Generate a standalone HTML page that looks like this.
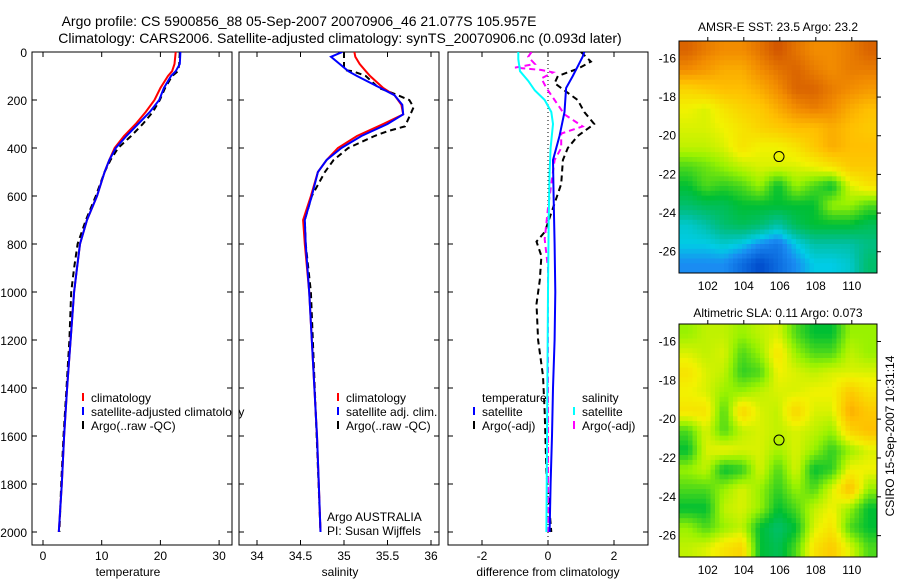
<!DOCTYPE html>
<html><head><meta charset="utf-8"><style>
html,body{margin:0;padding:0;background:#fff}
svg{display:block;font-family:"Liberation Sans",sans-serif}
</style></head><body>
<svg id="fig" width="900" height="580" viewBox="0 0 900 580" xmlns="http://www.w3.org/2000/svg">
<text x="299" y="26" font-size="14" text-anchor="middle">Argo profile: CS 5900856_88 05-Sep-2007 20070906_46 21.077S 105.957E</text>
<text x="340" y="43" font-size="14" text-anchor="middle">Climatology: CARS2006. Satellite-adjusted climatology: synTS_20070906.nc (0.093d later)</text>
<text x="778" y="31" font-size="12" text-anchor="middle">AMSR-E SST: 23.5 Argo: 23.2</text>
<text x="778" y="317" font-size="12" text-anchor="middle">Altimetric SLA: 0.11 Argo: 0.073</text>
<text transform="translate(894,436) rotate(-90)" font-size="12" text-anchor="middle">CSIRO 15-Sep-2007 10:31:14</text>
<g id="g"></g>
</svg>
<script>
// ---------- data ----------
const tClimDepth=[0,50,80,100,150,200,250,300,350,400,450,500,600,700,800,900,1000,1200,1400,1600,1800,2000];
const tClim=[22.6,22.4,22.0,21.3,20.0,19.0,17.5,15.8,13.8,12.2,11.3,10.5,9.2,7.5,6.3,5.8,5.3,4.7,4.1,3.6,3.2,2.7];
const tSat=[23.4,23.3,22.6,21.8,20.6,19.8,18.2,16.2,14.2,12.4,11.3,10.5,9.2,7.5,6.3,5.8,5.3,4.7,4.1,3.6,3.2,2.7];
const tArgo=[23.3,23.2,23.0,22.0,20.8,19.9,18.7,17.0,15.0,12.8,11.5,10.5,9.0,7.3,5.9,5.3,4.8,4.5,4.0,3.5,3.1,2.8];
const sDepth=[0,20,50,80,100,150,180,220,260,300,350,400,450,500,600,700,800,1000,1200,1400,1600,1800,2000];
const sClim=[35.12,35.13,35.18,35.25,35.3,35.45,35.58,35.66,35.68,35.45,35.15,34.93,34.8,34.7,34.62,34.53,34.55,34.6,34.63,34.66,34.69,34.71,34.73];
const sSat=[34.98,34.85,34.95,35.05,35.15,35.42,35.58,35.67,35.68,35.5,35.2,34.97,34.8,34.7,34.63,34.55,34.56,34.6,34.63,34.66,34.69,34.71,34.73];
const sArgoDepth=[0,50,75,80,100,150,170,200,230,270,310,330,350,400,450,500,600,700,800,1000,2000];
const sArgo=[35.0,35.0,35.0,35.1,35.25,35.4,35.55,35.75,35.8,35.75,35.7,35.5,35.35,35.05,34.88,34.78,34.63,34.55,34.56,34.62,34.73];
const dTSatDepth=[0,20,60,100,150,250,350,450,600,800,1000,1200,1400,1600,1800,2000];
const dTSat=[1.1,1.05,0.9,0.75,0.55,0.5,0.35,0.15,0.17,0.2,0.22,0.2,0.15,0.12,0.08,0.05];
const dTArgoDepth=[0,40,70,100,130,160,200,250,300,350,400,450,550,650,750,790,850,950,1050,1200,1350,1500,1750,2000];
const dTArgo=[1.0,1.3,0.9,0.3,0.2,0.5,0.9,1.1,1.4,0.9,0.6,0.45,0.4,0.15,-0.1,-0.35,-0.2,-0.25,-0.35,-0.3,-0.15,-0.1,-0.05,0.1];
const dSSatDepth=[0,30,80,120,160,200,250,300,400,500,700,1000,2000];
const dSSat=[-0.9,-0.9,-0.85,-0.6,-0.4,-0.1,0.1,0.15,0.08,0.05,0.02,0,-0.05];
const dSArgoDepth=[0,20,50,65,75,85,110,150,200,260,310,340,400,450,550,650,780,900,2000];
const dSArgo=[-0.5,-0.6,-0.4,-1.0,-0.2,0.15,-0.2,-0.05,0.2,0.5,1.05,0.4,0.4,0.2,0.1,0,-0.1,0,0];
const depthTicks=[0,200,400,600,800,1000,1200,1400,1600,1800,2000];
const tTicks=[0,10,20,30];
const sTicks=[34,34.5,35,35.5,36];
const dTicks=[-2,0,2];
const lonTicks=[102,104,106,108,110];
const latTicks=[-16,-18,-20,-22,-24,-26];
const sstGrid=[
[.85,.82,.8,.8,.83,.87,.83,.8,.8,.82,.85],
[.8,.78,.75,.75,.8,.83,.85,.82,.8,.82,.82],
[.68,.7,.72,.72,.75,.8,.85,.85,.82,.8,.78],
[.62,.6,.65,.68,.7,.75,.8,.82,.8,.75,.72],
[.6,.6,.62,.65,.68,.7,.72,.72,.75,.72,.7],
[.58,.58,.6,.65,.62,.62,.65,.7,.75,.72,.72],
[.5,.52,.55,.58,.6,.6,.6,.62,.65,.7,.7],
[.45,.5,.48,.5,.55,.45,.55,.5,.45,.6,.65],
[.4,.42,.42,.45,.45,.45,.45,.45,.55,.55,.5],
[.32,.35,.4,.42,.4,.35,.42,.45,.45,.45,.42],
[.3,.3,.32,.3,.25,.22,.3,.35,.35,.35,.38],
[.25,.25,.25,.2,.15,.2,.25,.3,.3,.32,.4]];
const slaGrid=[
[.55,.58,.58,.55,.58,.6,.5,.45,.45,.55,.55],
[.6,.58,.6,.5,.55,.65,.55,.5,.5,.58,.55],
[.65,.6,.58,.48,.5,.62,.6,.58,.6,.6,.6],
[.62,.6,.55,.55,.58,.6,.6,.62,.62,.7,.65],
[.65,.65,.5,.68,.6,.58,.68,.6,.6,.75,.7],
[.5,.6,.5,.58,.6,.58,.6,.58,.55,.68,.72],
[.45,.6,.62,.6,.6,.56,.6,.55,.48,.55,.6],
[.55,.58,.45,.48,.6,.5,.6,.45,.48,.62,.62],
[.5,.5,.55,.6,.55,.48,.55,.5,.6,.72,.55],
[.45,.45,.58,.6,.55,.45,.5,.58,.62,.55,.45],
[.55,.5,.55,.58,.45,.4,.45,.6,.65,.5,.45],
[.58,.6,.65,.68,.45,.42,.5,.65,.7,.6,.5]];
const argoLon=105.957, argoLat=-21.077;

// ---------- helpers ----------
const NS="http://www.w3.org/2000/svg";
const G=document.getElementById('g');
function mk(tag,attrs){const e=document.createElementNS(NS,tag);for(const k in attrs)e.setAttribute(k,attrs[k]);G.appendChild(e);return e;}
const top0=52, bot=545;
const yD=d=>top0+d*0.24;
function frame(x0,x1,name){
  const r=mk('rect',{x:x0,y:top0,width:x1-x0,height:bot-top0,fill:'none',stroke:'#000','stroke-width':1});
  
  
  depthTicks.forEach(d=>{
    const t1=mk('line',{x1:x0,x2:x0+5,y1:yD(d),y2:yD(d),stroke:'#000'});
    
    
    const t2=mk('line',{x1:x1-5,x2:x1,y1:yD(d),y2:yD(d),stroke:'#000'});
    
    
  });
}
function xticks(ticks,fx,x0,name){
  ticks.forEach(v=>{
    const x=fx(v);
    const l1=mk('line',{x1:x,x2:x,y1:bot,y2:bot-5,stroke:'#000'});
    
    
    const l2=mk('line',{x1:x,x2:x,y1:top0,y2:top0+5,stroke:'#000'});
    
    
    const t=mk('text',{x:x,y:560,'font-size':12,'text-anchor':'middle'});
    t.textContent=String(v);
    
    
  });
}
function line(depths,vals,fx,color,dash,name,clipId){
  const pts=depths.map((d,i)=>fx(vals[i]).toFixed(1)+','+yD(d).toFixed(1)).join(' ');
  const a={points:pts,fill:'none',stroke:color,'stroke-width':2};
  if(dash)a['stroke-dasharray']=dash;
  if(clipId)a['clip-path']='url(#'+clipId+')';
  const p=mk('polyline',a);
  
  
}
function label(x,y,txt,name,anchor,size){
  const t=mk('text',{x:x,y:y,'font-size':size||12,'text-anchor':anchor||'start'});
  t.textContent=txt;
  
  
  return t;
}
function legend(x,y,color,txt,name,dash){
  const l=mk('line',{x1:x,x2:x,y1:y-9,y2:y-1,stroke:color,'stroke-width':2});
  
  
  label(x+8,y,txt,name);
}
const defs=document.createElementNS(NS,'defs');G.appendChild(defs);
function clip(id,x0,x1){const c=document.createElementNS(NS,'clipPath');c.setAttribute('id',id);const r=document.createElementNS(NS,'rect');r.setAttribute('x',x0);r.setAttribute('y',top0);r.setAttribute('width',x1-x0);r.setAttribute('height',bot-top0);c.appendChild(r);defs.appendChild(c);}
clip('c1',32,232);clip('c2',239,439);clip('c3',448,648);

// ---------- panel 1 temperature ----------
const fT=v=>43+v*5.87;
frame(32,232,'temperature-panel-frame');
depthTicks.forEach(d=>label(27,yD(d)+5,String(d),'depth-tick-label','end'));
xticks(tTicks,fT,32,'temperature');
line(tClimDepth,tArgo,fT,'#000','6,4','temp-argo-line','c1');
line(tClimDepth,tClim,fT,'#f00',null,'temp-climatology-line','c1');
line(tClimDepth,tSat,fT,'#00f',null,'temp-satellite-line','c1');
label(128,576,'temperature','x-axis-title-temperature','middle');
legend(83,402,'#f00','climatology','legend-climatology');
legend(83,416,'#00f','satellite-adjusted climatology','legend-satellite-adjusted');
legend(83,430,'#000','Argo(..raw -QC)','legend-argo-raw');
const cover=mk('rect',{x:232.5,y:405,width:6,height:14,fill:'#fff'});



// ---------- panel 2 salinity ----------
const fS=v=>257+(v-34)*87;
frame(239,439,'salinity-panel-frame');
xticks(sTicks,fS,239,'salinity');
line(sArgoDepth,sArgo,fS,'#000','6,4','sal-argo-line','c2');
line(sDepth,sClim,fS,'#f00',null,'sal-climatology-line','c2');
line(sDepth,sSat,fS,'#00f',null,'sal-satellite-line','c2');
label(340,576,'salinity','x-axis-title-salinity','middle');
legend(338,402,'#f00','climatology','legend-sal-climatology');
legend(338,416,'#00f','satellite adj. clim.','legend-sal-satellite');
legend(338,430,'#000','Argo(..raw -QC)','legend-sal-argo');
label(327,521,'Argo AUSTRALIA','argo-australia-label');
label(327,535,'PI: Susan Wijffels','pi-label');

// ---------- panel 3 differences ----------
const fD=v=>548+v*33;
frame(448,648,'difference-panel-frame');
xticks(dTicks,fD,448,'difference');
const zl=mk('line',{x1:fD(0),x2:fD(0),y1:top0,y2:bot,stroke:'#000','stroke-dasharray':'1,3'});


line(dTArgoDepth,dTArgo,fD,'#000','6,4','diff-temp-argo-line','c3');
line(dSArgoDepth,dSArgo,fD,'#f0f','6,4','diff-sal-argo-line','c3');
line(dTSatDepth,dTSat,fD,'#00f',null,'diff-temp-satellite-line','c3');
line(dSSatDepth,dSSat,fD,'#0ff',null,'diff-sal-satellite-line','c3');
label(548,576,'difference from climatology','x-axis-title-difference','middle');
label(482,402,'temperature','legend-temperature-header');
legend(474,416,'#00f','satellite','legend-temp-satellite');
legend(474,430,'#000','Argo(-adj)','legend-temp-argo');
label(582,402,'salinity','legend-salinity-header');
legend(574,416,'#0ff','satellite','legend-sal-sat');
legend(574,430,'#f0f','Argo(-adj)','legend-sal-argo-adj');

// ---------- maps ----------
const stops=[[0.10,[0,0.1,0.6]],[0.15,[0,0.3,0.8]],[0.25,[0.1,0.55,0.95]],[0.3,[0,0.8,0.9]],[0.36,[0,0.75,0.6]],[0.45,[0,0.75,0.2]],[0.55,[0.6,0.95,0]],[0.62,[0.95,0.95,0]],[0.72,[1,0.75,0]],[0.8,[0.95,0.55,0]],[0.88,[0.8,0.3,0]]];
function cmap(v){
  if(v<=stops[0][0])return stops[0][1];
  for(let i=1;i<stops.length;i++){if(v<=stops[i][0]){const a=stops[i-1],b=stops[i],t=(v-a[0])/(b[0]-a[0]);return a[1].map((c,k)=>c+(b[1][k]-c)*t);}}
  return stops[stops.length-1][1];
}
function drawMap(grid,x0,y0,x1,y1,lon0,lon1,lat0,lat1,name){
  const R=grid.length,C=grid[0].length,up=4;
  const nr=R*up,nc=C*up,cw=(x1-x0)/nc,ch=(y1-y0)/nr;
  for(let i=0;i<nr;i++){for(let j=0;j<nc;j++){
    const fy=Math.min(Math.max((i+0.5)/up-0.5,0),R-1),fx=Math.min(Math.max((j+0.5)/up-0.5,0),C-1);
    const i0=Math.floor(fy),j0=Math.floor(fx),i1=Math.min(i0+1,R-1),j1=Math.min(j0+1,C-1),ty=fy-i0,tx=fx-j0;
    const v=(grid[i0][j0]*(1-tx)+grid[i0][j1]*tx)*(1-ty)+(grid[i1][j0]*(1-tx)+grid[i1][j1]*tx)*ty;
    const c=cmap(v).map(q=>Math.round(q*255));
    const r=mk('rect',{x:(x0+j*cw).toFixed(2),y:(y0+i*ch).toFixed(2),width:(cw+0.4).toFixed(2),height:(ch+0.4).toFixed(2),fill:'rgb('+c.join(',')+')'});
    
    
  }}
  const fx=lon=>x0+(lon-lon0)/(lon1-lon0)*(x1-x0);
  const fy=lat=>y0+(lat0-lat)/(lat0-lat1)*(y1-y0);
  const f=mk('rect',{x:x0,y:y0,width:x1-x0,height:y1-y0,fill:'none',stroke:'#000'});
  
  
  lonTicks.forEach(l=>{
    const a=mk('line',{x1:fx(l),x2:fx(l),y1:y0-4,y2:y0,stroke:'#000'});
    
    
    label(fx(l),y1+17,String(l),name+'-lon-label','middle');
  });
  latTicks.forEach(l=>{
    const a=mk('line',{x1:x1,x2:x1+4,y1:fy(l),y2:fy(l),stroke:'#000'});
    
    
    label(x0-3,fy(l)+4,String(l),name+'-lat-label','end');
  });
  const c=mk('circle',{cx:fx(argoLon),cy:fy(argoLat),r:5,fill:'none',stroke:'#000'});
  
  
}
drawMap(sstGrid,679,41,877,273,100.4,111.4,-15.1,-27.1,'sst-map');
drawMap(slaGrid,679,324,877,557,100.4,111.4,-15.1,-27.1,'sla-map');
</script>
</body></html>
